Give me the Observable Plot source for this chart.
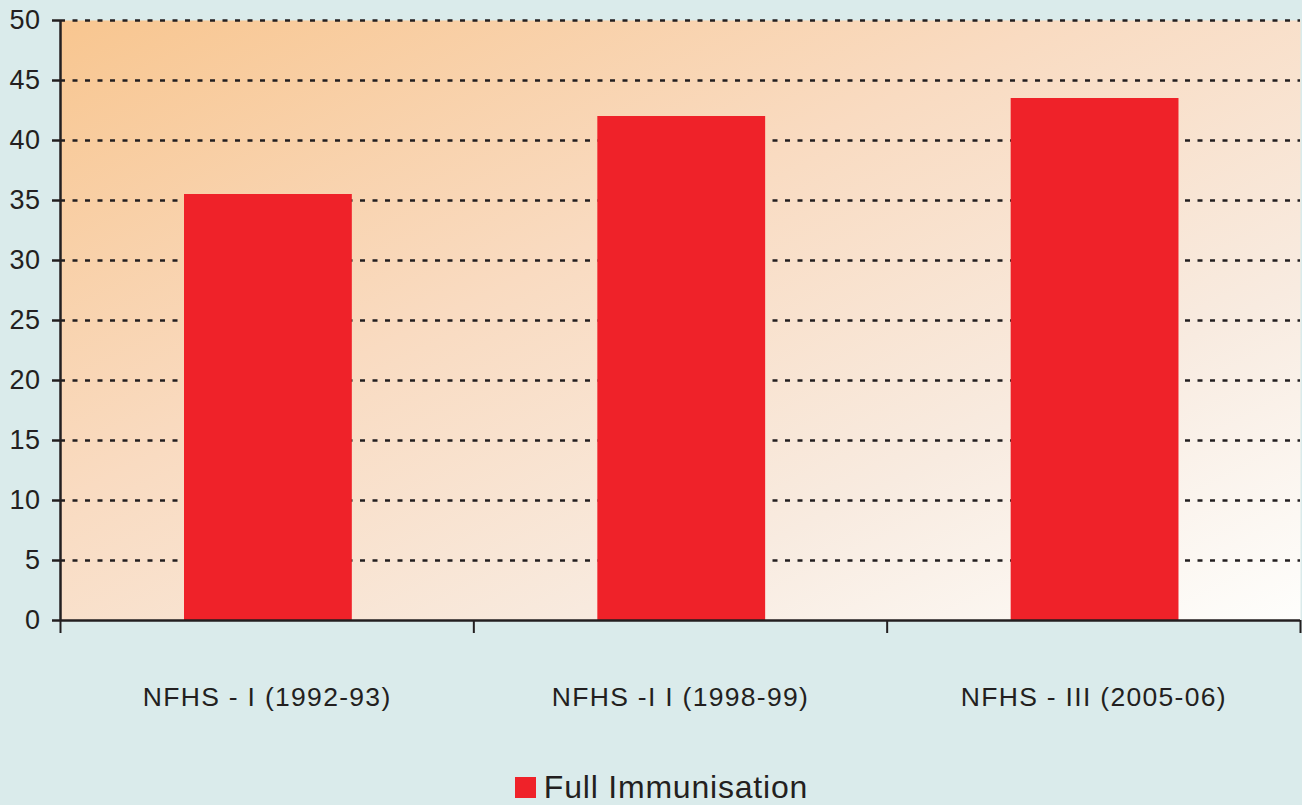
<!DOCTYPE html>
<html>
<head>
<meta charset="utf-8">
<script src="https://cdn.jsdelivr.net/npm/d3@7"></script>
<script src="https://cdn.jsdelivr.net/npm/@observablehq/plot@0.6"></script>
<style>
  html, body { margin: 0; padding: 0; background: #daebeb; }
  body { width: 1302px; height: 805px; overflow: hidden; font-family: "Liberation Sans", Arial, sans-serif; }
  #chart svg { display: block; }
  #chart svg g[aria-label="x-axis tick label"] text { letter-spacing: 1.3px; }
  #chart svg g[aria-label="y-axis tick label"] text { letter-spacing: 0.5px; }
  #legend { position: relative; display: flex; justify-content: center; align-items: center; padding-left: 21px; margin-top: 49px; height: 36px; }
  #legend .sw { width: 21px; height: 21px; background: #ef2229; margin-right: 8px; }
  #legend .lbl { font-size: 32px; line-height: 36px; color: #231f20; letter-spacing: 0.8px; }
</style>
</head>
<body>
<div id="chart"></div>
<div id="legend"><span class="sw"></span><span class="lbl">Full Immunisation</span></div>
<script>
const categories = ["NFHS - I (1992-93)", "NFHS -I I (1998-99)", "NFHS - III (2005-06)"];
const values = [35.5, 42, 43.5];
const yTicks = [0, 5, 10, 15, 20, 25, 30, 35, 40, 45, 50];
const gridTicks = [5, 10, 15, 20, 25, 30, 35, 40, 45, 50];
const seriesName = "Full Immunisation";

const data = categories.map((c, i) => ({category: c, index: i, value: values[i]}));
const ink = "#231f20";

const chart = Plot.plot({
  width: 1302,
  height: 720,
  marginTop: 20,
  marginBottom: 100,
  marginLeft: 60,
  marginRight: 2,
  style: {background: "transparent", fontFamily: "'Liberation Sans', Arial, sans-serif", color: ink},
  x: {type: "linear", domain: [0, categories.length]},
  y: {domain: [0, 50]},
  marks: [
    Plot.frame({fill: "url(#bgGrad)", stroke: null}),
    Plot.ruleY(gridTicks, {stroke: ink, strokeWidth: 2.5, strokeDasharray: "5,7.5", strokeOpacity: 1}),
    Plot.rectY(data, {x1: d => d.index + 0.3, x2: d => d.index + 0.706, y1: 0, y2: "value", fill: "#ef2229"}),
    Plot.ruleX([0], {y1: 0, y2: 50, stroke: ink, strokeWidth: 2.5}),
    Plot.ruleY([0], {stroke: ink, strokeWidth: 2.7}),
    Plot.axisY({ticks: yTicks, tickSize: 8, tickPadding: 12, fontSize: 27, stroke: ink, strokeWidth: 2.5, strokeOpacity: 1, label: null}),
    Plot.axisX({ticks: d3.range(categories.length + 1), tickSize: 13, tickFormat: () => "", stroke: ink, strokeWidth: 2, strokeOpacity: 1, label: null}),
    Plot.axisX({ticks: categories.map((c, i) => i + 0.5), tickSize: 0, tickPadding: 67, fontSize: 26.5, tickFormat: v => categories[Math.floor(v)], label: null})
  ]
});

d3.select(chart).insert("defs", ":first-child").html(`
  <linearGradient id="bgGrad" x1="0" y1="0" x2="1" y2="1">
    <stop offset="0" stop-color="#f8c690"/>
    <stop offset="0.4" stop-color="#f9dbc1"/>
    <stop offset="0.72" stop-color="#f8ebe0"/>
    <stop offset="1" stop-color="#fefefc"/>
  </linearGradient>`);

document.getElementById("chart").appendChild(chart);
</script>
</body>
</html>
